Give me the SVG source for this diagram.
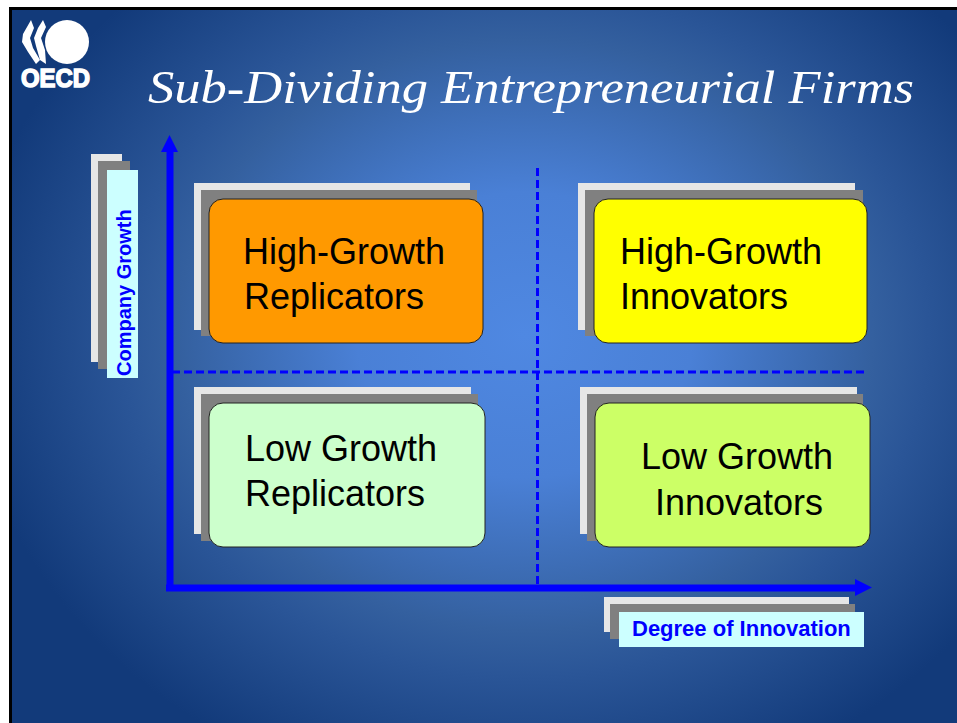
<svg xmlns="http://www.w3.org/2000/svg" width="957" height="723" viewBox="0 0 957 723">
<defs>
<radialGradient id="bg" gradientUnits="userSpaceOnUse" cx="525" cy="335" r="560" gradientTransform="translate(525 335) scale(1 0.85) translate(-525 -335)">
<stop offset="0" stop-color="#4f88e2"/><stop offset="0.3" stop-color="#4a80d6"/><stop offset="0.62" stop-color="#34609f"/><stop offset="0.72" stop-color="#2a5597"/><stop offset="1" stop-color="#123a7a"/>
</radialGradient>
<marker id="ah" markerUnits="userSpaceOnUse" markerWidth="18" markerHeight="18" refX="0" refY="9" orient="auto"><path d="M0,0L17,8.500L0,17Z" fill="#0000ff"/></marker>
</defs>
<style>
.w{fill:#e6e6e6}.g{fill:#808080}.c{fill:#ccffff}
.b{stroke:#222;stroke-width:1}
.t{font-family:"Liberation Sans",Arial,sans-serif;font-size:36px;fill:#000}
.l{font-family:"Liberation Sans",Arial,sans-serif;font-size:22px;font-weight:bold;fill:#0000ff}
.d{stroke:#0000ff;stroke-width:3;stroke-dasharray:8 4;fill:none}
.a{stroke:#0000ff;stroke-width:7;fill:none}
</style>
<rect width="957" height="723" fill="#fff"/>
<rect x="9" y="7" width="948" height="716" fill="#000"/>
<rect x="12" y="10" width="945" height="713" fill="url(#bg)"/>
<g id="logo" fill="#fff">
<circle cx="67" cy="42" r="22"/>
<path d="M31,20 L34,28 L30,38 L33,48 L40,60 L36,64 L28,52 L22,42 L23,34Z"/>
<path d="M43,20 L46,27 L41,38 L45,50 L46,64 L40,60 L36,46 L34,38 L38,28Z"/>
<text x="21" y="87" font-family="'Liberation Sans',Arial,sans-serif" font-weight="bold" font-size="25" textLength="69" lengthAdjust="spacingAndGlyphs" stroke="#fff" stroke-width="1.500">OECD</text>
</g>
<text id="title" x="148" y="103" font-family="'Liberation Serif','Times New Roman',serif" font-style="italic" font-size="47" fill="#fff" textLength="766" lengthAdjust="spacingAndGlyphs">Sub-Dividing Entrepreneurial Firms</text>
<g id="connectors">
<path class="d" d="M172,372H868"/>
<path class="d" d="M537.500,168V586"/>
<path class="a" d="M170,590V152" marker-end="url(#ah)"/>
<path class="a" d="M166,588H855" marker-end="url(#ah)"/>
</g>
<g id="y-label">
<rect class="w" x="91" y="154" width="31" height="208"/>
<rect class="g" x="98" y="161" width="32" height="208"/>
<rect class="c" x="107" y="170" width="31" height="208"/>
<text class="l" font-size="20" transform="translate(131,376) rotate(-90)" style="font-size:20px">Company Growth</text>
</g>
<g id="x-label">
<rect class="w" x="604" y="597" width="245" height="35"/>
<rect class="g" x="610" y="604" width="245" height="35"/>
<rect class="c" x="619" y="612" width="245" height="35"/>
<text class="l" x="632" y="636" style="font-size:22px">Degree of Innovation</text>
</g>
<g id="high-growth-replicators">
<rect class="w" x="194" y="183" width="276" height="147"/>
<rect class="g" x="201" y="190" width="276" height="146"/>
<rect class="b" x="209" y="199" width="274" height="144" rx="14" fill="#ff9900"/>
<text class="t" x="243" y="264">High-Growth</text>
<text class="t" x="244" y="309">Replicators</text>
</g>
<g id="high-growth-innovators">
<rect class="w" x="578" y="183" width="277" height="147"/>
<rect class="g" x="585" y="190" width="278" height="146"/>
<rect class="b" x="594" y="199" width="273" height="144" rx="14" fill="#ffff00"/>
<text class="t" x="620" y="264">High-Growth</text>
<text class="t" x="620" y="309">Innovators</text>
</g>
<g id="low-growth-replicators">
<rect class="w" x="194" y="387" width="277" height="147"/>
<rect class="g" x="201" y="394" width="277" height="147"/>
<rect class="b" x="209" y="403" width="276" height="144" rx="14" fill="#ccffcc"/>
<text class="t" x="245" y="461">Low Growth</text>
<text class="t" x="245" y="506">Replicators</text>
</g>
<g id="low-growth-innovators">
<rect class="w" x="580" y="387" width="277" height="147"/>
<rect class="g" x="587" y="394" width="276" height="147"/>
<rect class="b" x="595" y="403" width="275" height="144" rx="14" fill="#ccff66"/>
<text class="t" x="641" y="469">Low Growth</text>
<text class="t" x="655" y="515">Innovators</text>
</g>
</svg>
